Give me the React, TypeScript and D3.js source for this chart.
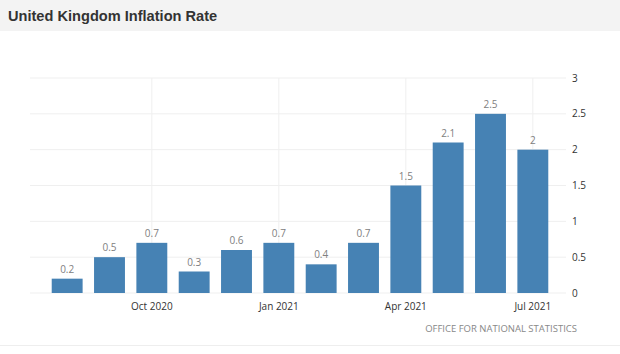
import React from 'react';
import * as d3 from 'd3';

const months = ['Aug 2020', 'Sep 2020', 'Oct 2020', 'Nov 2020', 'Dec 2020', 'Jan 2021',
  'Feb 2021', 'Mar 2021', 'Apr 2021', 'May 2021', 'Jun 2021', 'Jul 2021'];
const rates = [0.2, 0.5, 0.7, 0.3, 0.6, 0.7, 0.4, 0.7, 1.5, 2.1, 2.5, 2.0];
const xTickLabels = ['Oct 2020', 'Jan 2021', 'Apr 2021', 'Jul 2021'];
const yTicks = [0, 0.5, 1, 1.5, 2, 2.5, 3];

const W = 620;
const H = 354;

export default function App() {
  const x = d3.scaleBand<string>()
    .domain(months)
    .range([46, 554])
    .paddingInner(0.27)
    .paddingOuter(0.135);
  const y = d3.scaleLinear().domain([0, 3]).range([293, 78]);
  const fmt = (v: number) => d3.format('~g')(v);
  const font = '"Open Sans", sans-serif';

  return (
    <div style={{ position: 'fixed', left: 0, top: 0 }}>
      <svg width={W} height={H} style={{ display: 'block', background: '#fff' }}>
        {/* header band */}
        <rect x={0} y={0} width={W} height={31} fill="#f3f3f3" />
        <text x={8} y={20.5} fontFamily='"Liberation Sans", Arial, sans-serif' fontWeight="bold"
          fontSize={14.6} fill="#333">United Kingdom Inflation Rate</text>

        {/* grid */}
        {yTicks.map(t => (
          <line key={'h' + t} x1={30} x2={566} y1={y(t)} y2={y(t)} stroke="#efefef" strokeWidth={1} />
        ))}
        {xTickLabels.map(m => {
          const cx = (x(m) ?? 0) + x.bandwidth() / 2;
          return <line key={'v' + m} x1={cx} x2={cx} y1={y(3)} y2={y(0)} stroke="#efefef" strokeWidth={1} />;
        })}

        {/* bars */}
        {months.map((m, i) => (
          <g key={m}>
            <rect x={x(m)} y={y(rates[i])} width={x.bandwidth()} height={y(0) - y(rates[i])} fill="#4682b4" />
            <text x={(x(m) ?? 0) + x.bandwidth() / 2} y={y(rates[i]) - 6} textAnchor="middle"
              fontFamily={font} fontSize={10} fill="#808080">{fmt(rates[i])}</text>
          </g>
        ))}

        {/* x labels */}
        {xTickLabels.map(m => (
          <text key={'xl' + m} x={(x(m) ?? 0) + x.bandwidth() / 2} y={310} textAnchor="middle"
            fontFamily={font} fontSize={10} fill="#333">{m}</text>
        ))}

        {/* y labels */}
        {yTicks.map(t => (
          <text key={'yl' + t} x={572} y={y(t) + 3.5} fontFamily={font} fontSize={10} fill="#333">{fmt(t)}</text>
        ))}

        <text x={577} y={332} textAnchor="end" fontFamily={font} fontSize={9.5} fill="#888">
          OFFICE FOR NATIONAL STATISTICS
        </text>
        <line x1={0} x2={W} y1={345.5} y2={345.5} stroke="#eeeeee" />
      </svg>
    </div>
  );
}
